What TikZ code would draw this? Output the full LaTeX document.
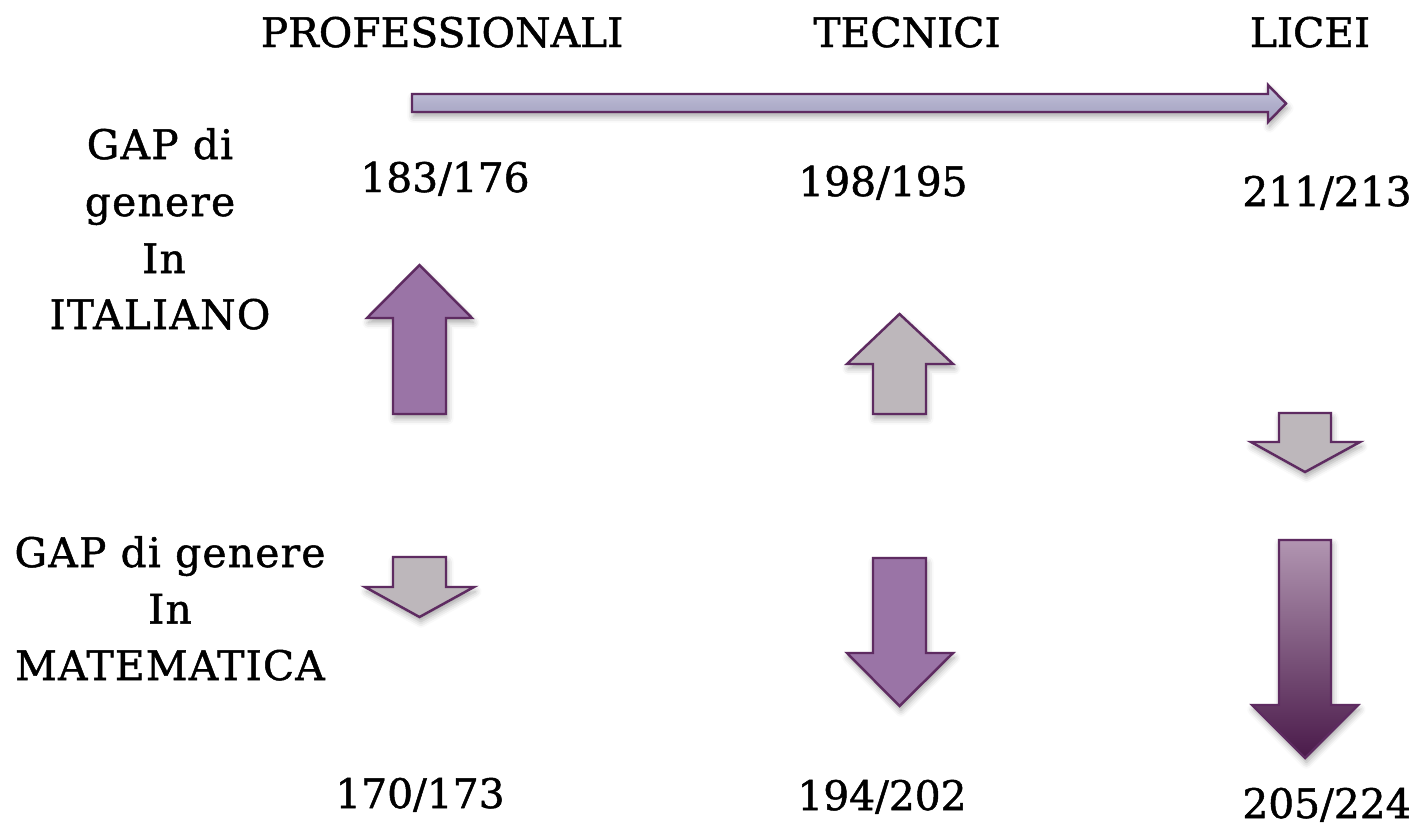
\documentclass[tikz,border=0pt]{standalone}
\usepackage{fontspec}
\setmainfont{DejaVu Serif}[FakeBold=1.2]
\newfontfamily\widefont{DejaVu Serif}[FakeBold=1.2, LetterSpace=3]
\usetikzlibrary{shadows.blur}
\definecolor{arrline}{HTML}{5E2B61}
\definecolor{arrpurple}{HTML}{9A74A6}
\definecolor{arrgray}{HTML}{BDB7BB}
\definecolor{lavtop}{HTML}{C9C8DF}
\definecolor{lavbot}{HTML}{A3A1C2}
\definecolor{gradtop}{HTML}{B195B1}
\definecolor{gradbot}{HTML}{4A1A4A}
\tikzset{
  arr/.style={draw=arrline, line width=1.4pt, line join=miter,
    blur shadow={shadow xshift=0.8pt, shadow yshift=-2.6pt, shadow blur radius=3.5pt, shadow opacity=35}},
  purplearr/.style={arr, fill=arrpurple},
  grayarr/.style={arr, fill=arrgray},
  gradarr/.style={arr, top color=gradtop, bottom color=gradbot},
  lavarr/.style={arr, top color=lavtop, bottom color=lavbot, middle color=lavbot!85!white},
  lbl/.style={anchor=base, inner sep=0pt, font=\fontsize{23.2pt}{28pt}\selectfont},
  sidelbl/.style={lbl, font=\fontsize{23.2pt}{28pt}\widefont},
}
\begin{document}
\begin{tikzpicture}[x=0.02cm, y=-0.02cm]
\useasboundingbox (0,0) rectangle (1409,825);
% titles
\node[lbl] (prof) at (442,47) {PROFESSIONALI};
\node[lbl] (tecn) at (907,47) {TECNICI};
\node[lbl] (lic) at (1310,47) {LICEI};
% long arrow
\path[lavarr] (412,94) -- (1268,94) -- (1268,85) -- (1286,103.5) -- (1268,122) -- (1268,112) -- (412,112) -- cycle;
% left labels
\node[sidelbl] (it1) at (160,159) {GAP di};
\node[sidelbl] (it2) at (160,216) {genere};
\node[sidelbl] (it3) at (164,273) {In};
\node[sidelbl] (it4) at (160,329) {ITALIANO};
\node[sidelbl] (ma1) at (170,567) {GAP di genere};
\node[sidelbl] (ma2) at (170,623.5) {In};
\node[sidelbl] (ma3) at (170,680) {MATEMATICA};
% numbers
\node[lbl] (n1) at (445,192) {183/176};
\node[lbl] (n2) at (883,196) {198/195};
\node[lbl] (n3) at (1327,206) {211/213};
\node[lbl] (n4) at (420,808) {170/173};
\node[lbl] (n5) at (882,810) {194/202};
\node[lbl] (n6) at (1327,818) {205/224};
% professionali arrows
\path[purplearr] (419.5,265) -- (472,318) -- (446,318) -- (446,414) -- (393,414) -- (393,318) -- (367,318) -- cycle;
\path[grayarr] (393,557) -- (446,557) -- (446,587) -- (474,587) -- (419.5,617) -- (365,587) -- (393,587) -- cycle;
% tecnici arrows
\path[grayarr] (899.5,314) -- (953,364) -- (926,364) -- (926,414) -- (873,414) -- (873,364) -- (847,364) -- cycle;
\path[purplearr] (873,558) -- (926,558) -- (926,653) -- (953,653) -- (899.5,706) -- (847,653) -- (873,653) -- cycle;
% licei arrows
\path[grayarr] (1279,413) -- (1331,413) -- (1331,442) -- (1360,442) -- (1305,472) -- (1251,442) -- (1279,442) -- cycle;
\path[gradarr] (1279,540) -- (1331,540) -- (1331,705) -- (1358,705) -- (1305,758) -- (1252,705) -- (1279,705) -- cycle;
\end{tikzpicture}
\end{document}
